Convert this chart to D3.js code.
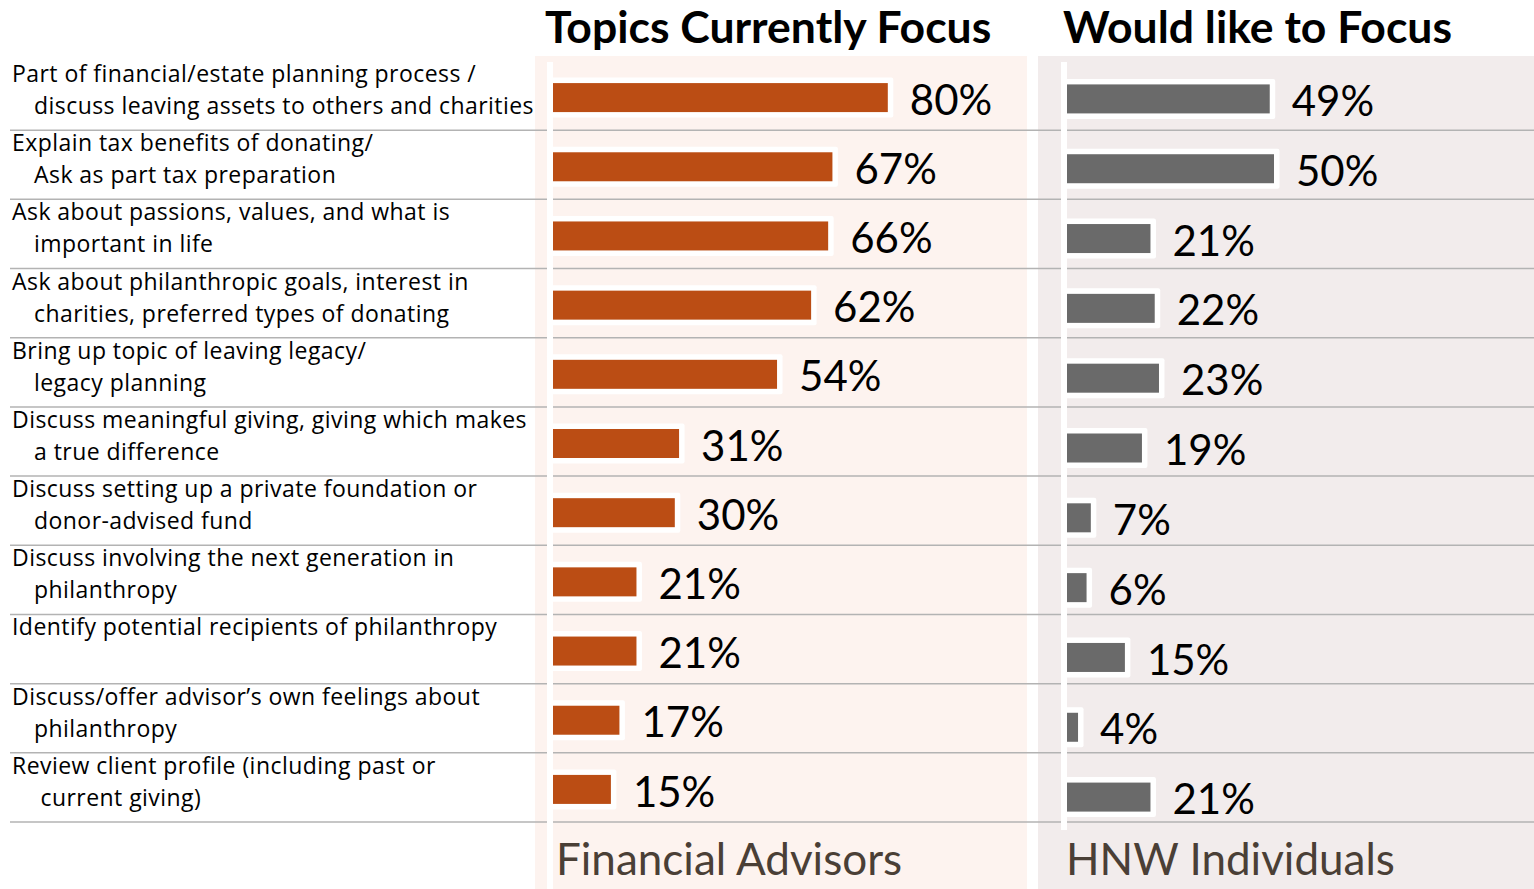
<!DOCTYPE html>
<html lang="en">
<head>
  <meta charset="UTF-8">
  <title>Philanthropy Topics</title>
  <script src="https://cdn.jsdelivr.net/npm/d3@7"></script>
  <style>
    body { margin: 0; background: #fff; }
    svg { display: block; font-family: Lato, "Noto Sans", sans-serif; }
    .row-label { font-family: "Open Sans", "Noto Sans", sans-serif; font-size: 23px; letter-spacing: 0.45px; fill: #000; }
    .value-label { font-size: 42px; fill: #000; }
    .panel-title { font-size: 44.5px; font-weight: bold; fill: #000; }
    .panel-foot { font-size: 44px; fill: #4a3f36; }
  </style>
</head>
<body>
  <div id="container"></div>
  <script>
    const topics = [
      ["Part of financial/estate planning process /", "discuss leaving assets to others and charities"],
      ["Explain tax benefits of donating/", "Ask as part tax preparation"],
      ["Ask about passions, values, and what is", "important in life"],
      ["Ask about philanthropic goals, interest in", "charities, preferred types of donating"],
      ["Bring up topic of leaving legacy/", "legacy planning"],
      ["Discuss meaningful giving, giving which makes", "a true difference"],
      ["Discuss setting up a private foundation or", "donor-advised fund"],
      ["Discuss involving the next generation in", "philanthropy"],
      ["Identify potential recipients of philanthropy", ""],
      ["Discuss/offer advisor\u2019s own feelings about", "philanthropy"],
      ["Review client profile (including past or", " current giving)"]
    ];
    const advisors = [80, 67, 66, 62, 54, 31, 30, 21, 21, 17, 15];
    const individuals = [49, 50, 21, 22, 23, 19, 7, 6, 15, 4, 21];
    const titles = ["Topics Currently Focus", "Would like to Focus"];
    const footers = ["Financial Advisors", "HNW Individuals"];

    const orange = "#bb4d14";
    const grey = "#6a6a6a";
    const width = 1534, height = 889;

    const svg = d3.select("#container")
      .append("svg")
      .attr("width", width)
      .attr("height", height);

    const idx = d3.range(topics.length);

    // rows (left panel and the right panel drift slightly apart in the original)
    const yLeft = d3.scaleBand().domain(idx).range([61, 822]);
    const yRight = d3.scaleBand().domain(idx).range([62, 830]);

    // per-percent scales for each panel
    const xLeft = d3.scaleLinear().domain([0, 100]).range([547, 547 + 426]);
    const xRight = d3.scaleLinear().domain([0, 100]).range([1061, 1061 + 426]);

    // panel backgrounds
    svg.append("rect").attr("x", 535).attr("y", 56).attr("width", 492).attr("height", height - 56).attr("fill", "#fdf3ef");
    svg.append("rect").attr("x", 1038).attr("y", 56).attr("width", width - 1038).attr("height", height - 56).attr("fill", "#f2ecec");

    // row separators
    svg.selectAll(".sep-left")
      .data(idx)
      .enter()
      .append("line")
      .attr("x1", 10).attr("x2", 545)
      .attr("y1", d => yLeft(d) + yLeft.bandwidth())
      .attr("y2", d => yLeft(d) + yLeft.bandwidth())
      .attr("stroke", "#b3b3b3").attr("stroke-width", 1.5);

    svg.selectAll(".sep-right")
      .data(idx)
      .enter()
      .append("line")
      .attr("x1", 545).attr("x2", width)
      .attr("y1", d => yLeft(d) + yLeft.bandwidth())
      .attr("y2", d => yLeft(d) + yLeft.bandwidth())
      .attr("stroke", "#b3b3b3").attr("stroke-width", 1.5);

    // row labels
    const labels = svg.selectAll(".row-label")
      .data(topics)
      .enter()
      .append("text")
      .attr("class", "row-label");

    labels.append("tspan")
      .attr("x", 12)
      .attr("y", (d, i) => yLeft(i) + 21)
      .text(d => d[0]);

    labels.append("tspan")
      .attr("x", 34)
      .attr("y", (d, i) => yLeft(i) + 53)
      .style("white-space", "pre")
      .text(d => d[1]);

    function drawPanel(values, x, y, color, axisBottom) {
      const barH = 29, pad = 5.5;
      const g = svg.append("g");
      const barY = i => y(i) + y.bandwidth() / 2 - barH / 2 + 2;

      // white outline behind each bar
      g.selectAll("rect.bar-bg")
        .data(values)
        .enter()
        .append("rect")
        .attr("class", "bar-bg")
        .attr("x", x(0))
        .attr("y", (d, i) => barY(i) - pad)
        .attr("width", d => x(d) - x(0) + pad)
        .attr("height", barH + pad * 2)
        .attr("rx", 2)
        .attr("fill", "#fff");

      g.selectAll("rect.bar")
        .data(values)
        .enter()
        .append("rect")
        .attr("class", "bar")
        .attr("x", x(0))
        .attr("y", (d, i) => barY(i))
        .attr("width", d => x(d) - x(0))
        .attr("height", barH)
        .attr("fill", color);

      g.selectAll("text.value-label")
        .data(values)
        .enter()
        .append("text")
        .attr("class", "value-label")
        .attr("x", d => x(d) + 22)
        .attr("y", (d, i) => y(i) + y.bandwidth() / 2 + 4)
        .attr("dy", "0.36em")
        .text(d => d + "%");

      // white axis line
      g.append("rect")
        .attr("x", x(0))
        .attr("y", 62)
        .attr("width", 6)
        .attr("height", axisBottom - 62)
        .attr("fill", "#fff");
    }

    drawPanel(advisors, xLeft, yLeft, orange, height);
    drawPanel(individuals, xRight, yRight, grey, 830);

    // titles
    svg.append("text").attr("class", "panel-title").attr("x", 545).attr("y", 43).text(titles[0]);
    svg.append("text").attr("class", "panel-title").attr("x", 1063).attr("y", 43).text(titles[1]);

    // footers
    svg.append("text").attr("class", "panel-foot").attr("x", 556).attr("y", 875).text(footers[0]);
    svg.append("text").attr("class", "panel-foot").attr("x", 1066).attr("y", 875).text(footers[1]);
  </script>
</body>
</html>
